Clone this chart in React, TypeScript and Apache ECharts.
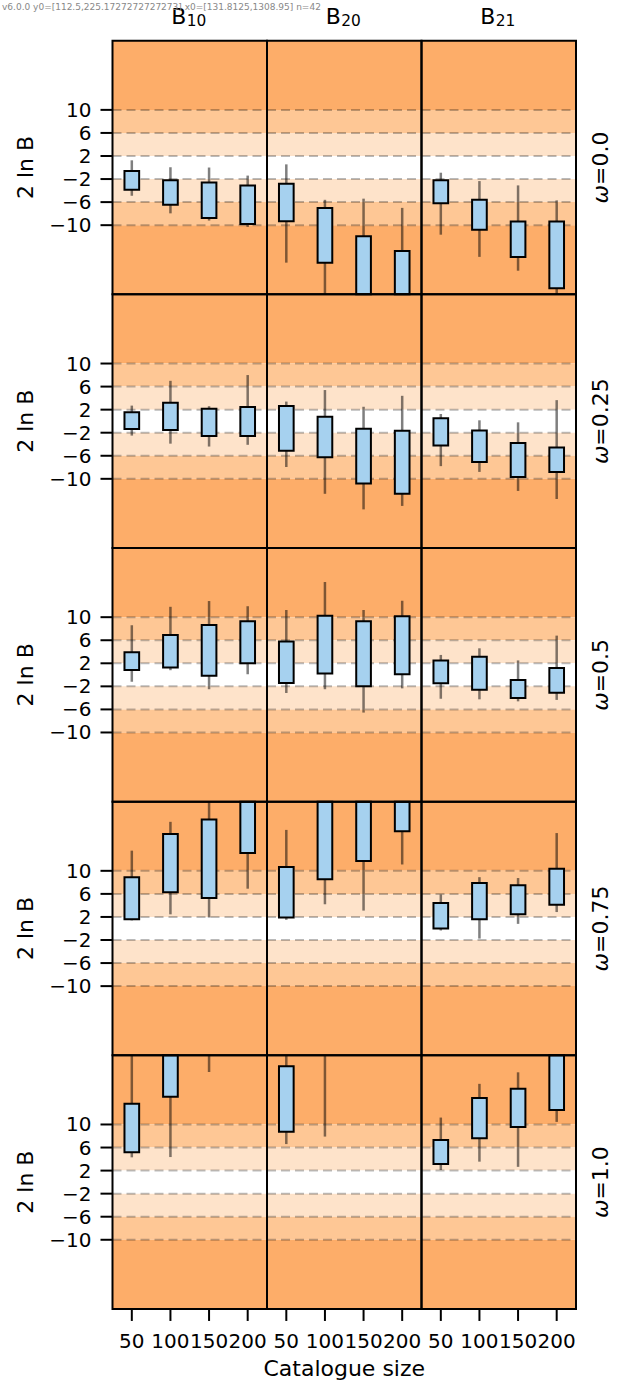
import React, { useEffect, useRef } from "react";
import * as echarts from "echarts";

// ---------- data ----------
const columnSubscripts = ["10", "20", "21"];
const omegaLabels = ["0.0", "0.25", "0.5", "0.75", "1.0"];
const catalogueSizes = [50, 100, 150, 200];
const yTickValues = [-10, -6, -2, 2, 6, 10];

const bandLow = [10, 6, 2, -2, -6, -10, -22];
const bandHigh = [22, 10, 6, 2, -2, -6, -10];
const bandColorIndex = [3, 2, 1, 0, 1, 2, 3];
const bandColors = ["#ffffff", "#fee3ca", "#fec795", "#fdad69"];

// rows: omega = 0.0, 0.25, 0.5, 0.75, 1.0 ; columns inside: catalogue size 50,100,150,200
const b10WhiskerLow = [
  [-4.9, -7.95, -9.2, -10.3],
  [-2.5, -3.9, -4.4, -4.1],
  [-1.2, 0.8, -2.5, 0.1],
  [1.4, 2.45, 1.9, 6.9],
  [4.3, 4.35, 19.1, 24.5],
];
const b10BoxLow = [
  [-3.85, -6.45, -8.75, -9.8],
  [-1.35, -1.55, -2.55, -2.55],
  [0.85, 1.25, -0.15, 2.0],
  [1.6, 6.3, 5.3, 13.1],
  [5.2, 14.8, 26, 28],
];
const b10BoxHigh = [
  [-0.6, -2.2, -2.6, -3.1],
  [1.55, 3.2, 2.15, 2.45],
  [3.9, 6.9, 8.65, 9.3],
  [8.9, 16.4, 18.9, 27],
  [13.6, 26, 33, 36],
];
const b10WhiskerHigh = [
  [1.25, 0.05, 0.0, -1.4],
  [2.7, 7.0, 2.6, 8.0],
  [8.6, 11.8, 12.8, 11.9],
  [13.5, 18.5, 24, 30],
  [26, 32, 40, 44],
];

const b20WhiskerLow = [
  [-16.5, -26, -30, -32],
  [-7.95, -12.6, -15.3, -14.7],
  [-3.15, -2.5, -6.55, -2.35],
  [1.5, 4.2, 3.1, 11.1],
  [6.6, 7.9, 25, 27],
];
const b20BoxLow = [
  [-9.3, -16.5, -25, -27],
  [-5.15, -6.25, -10.8, -12.6],
  [-1.4, 0.25, -2.0, 0.1],
  [1.9, 8.55, 11.7, 16.85],
  [8.75, 24, 30, 32],
];
const b20BoxHigh = [
  [-2.8, -7.0, -11.9, -14.5],
  [2.65, 0.75, -1.3, -1.65],
  [5.8, 10.25, 9.3, 10.15],
  [10.65, 24, 25, 26],
  [20.1, 30, 36, 38],
];
const b20WhiskerHigh = [
  [0.55, -5.6, -5.4, -7.0],
  [3.4, 5.4, 2.5, 4.4],
  [11.25, 16.1, 11.25, 12.85],
  [17.1, 30, 31, 32],
  [25, 34, 40, 42],
];

const b21WhiskerLow = [
  [-11.65, -15.5, -17.9, -22.5],
  [-7.8, -8.8, -12.1, -13.5],
  [-4.15, -4.25, -4.6, -4.35],
  [-0.35, -1.75, 0.8, 2.85],
  [2.1, 3.55, 2.65, 10.45],
];
const b21BoxLow = [
  [-6.2, -10.8, -15.5, -20.95],
  [-4.2, -7.1, -9.7, -8.8],
  [-1.45, -2.6, -4.0, -3.1],
  [0.0, 1.6, 2.45, 4.1],
  [3.15, 7.6, 9.55, 12.5],
];
const b21BoxHigh = [
  [-2.2, -5.6, -9.35, -9.35],
  [0.5, -1.6, -3.8, -4.55],
  [2.5, 3.15, -0.9, 1.2],
  [4.4, 7.9, 7.5, 10.35],
  [7.3, 14.6, 16.2, 23.5],
];
const b21WhiskerHigh = [
  [-0.9, -2.35, -3.1, -5.7],
  [1.25, 0.15, -0.2, 3.65],
  [3.45, 4.6, 2.5, 6.8],
  [5.9, 8.9, 8.75, 16.55],
  [11.2, 17.05, 19.05, 27],
];

// ---------- layout / style ----------
const W = 625;
const H = 1386;
const X_MIN = 25;
const X_MAX = 225;
const Y_MIN = -22;
const Y_MAX = 22;
const BOX_WIDTH = 19;
const GRID_LEFT = 112.5;
const COL_W = 154.5;
const GRID_TOP = 40.7;
const ROW_H = 253.65;
const TICK_LEN = 12;
const FONT = "DejaVu Sans";

const columns = [
  { wl: b10WhiskerLow, bl: b10BoxLow, bh: b10BoxHigh, wh: b10WhiskerHigh },
  { wl: b20WhiskerLow, bl: b20BoxLow, bh: b20BoxHigh, wh: b20WhiskerHigh },
  { wl: b21WhiskerLow, bl: b21BoxLow, bh: b21BoxHigh, wh: b21WhiskerHigh },
];
const nRows = omegaLabels.length;
const nCols = columns.length;

const minus = (v: number) => (v < 0 ? "\u2212" + String(-v) : String(v));
const clampY = (v: number) => Math.max(Y_MIN, Math.min(Y_MAX, v));

function buildOption() {
  const grid: any[] = [];
  const xAxis: any[] = [];
  const yAxis: any[] = [];
  const series: any[] = [];

  for (let r = 0; r < nRows; r++) {
    for (let c = 0; c < nCols; c++) {
      const idx = grid.length;
      grid.push({
        left: GRID_LEFT + c * COL_W,
        top: GRID_TOP + r * ROW_H,
        width: COL_W,
        height: ROW_H,
      });
      const isBottom = r === nRows - 1;
      const isLeft = c === 0;
      xAxis.push({
        type: "value",
        gridIndex: idx,
        min: X_MIN,
        max: X_MAX,
        splitLine: { show: false },
        axisLine: { show: false },
        axisTick: { show: false },
        axisLabel: {
          show: isBottom,
          customValues: catalogueSizes,
          fontSize: 20,
          fontFamily: FONT,
          color: "#000",
          margin: 22,
          formatter: (v: number) => String(v),
        },
      });
      yAxis.push({
        type: "value",
        gridIndex: idx,
        min: Y_MIN,
        max: Y_MAX,
        splitLine: { show: false },
        axisLine: { show: false },
        axisTick: { show: false },
        axisLabel: {
          show: isLeft,
          customValues: yTickValues,
          fontSize: 20,
          fontFamily: FONT,
          color: "#000",
          margin: 21,
          formatter: (v: number) => minus(v),
        },
      });

      series.push({
        type: "custom",
        xAxisIndex: idx,
        yAxisIndex: idx,
        silent: true,
        z: 1,
        data: bandLow.map((lo, i) => [lo, bandHigh[i], bandColorIndex[i]]),
        renderItem: (params: any, api: any) => {
          const cs = params.coordSys;
          const pTop = api.coord([X_MIN, api.value(1)]);
          const pBot = api.coord([X_MIN, api.value(0)]);
          return {
            type: "rect",
            shape: { x: cs.x, y: pTop[1], width: cs.width, height: pBot[1] - pTop[1] },
            style: { fill: bandColors[api.value(2)], stroke: null },
          };
        },
      });

      series.push({
        type: "custom",
        xAxisIndex: idx,
        yAxisIndex: idx,
        silent: true,
        z: 2,
        data: yTickValues.map((v) => [v]),
        renderItem: (params: any, api: any) => {
          const cs = params.coordSys;
          const p = api.coord([X_MIN, api.value(0)]);
          return {
            type: "line",
            shape: { x1: cs.x, y1: p[1], x2: cs.x + cs.width, y2: p[1] },
            style: { stroke: "rgba(0,0,0,0.27)", lineWidth: 2, lineDash: [9, 5] },
          };
        },
      });

      const col = columns[c];
      series.push({
        type: "custom",
        xAxisIndex: idx,
        yAxisIndex: idx,
        silent: true,
        z: 3,
        data: catalogueSizes.map((s, i) => [s, col.wl[r][i], col.bl[r][i], col.bh[r][i], col.wh[r][i]]),
        renderItem: (params: any, api: any) => {
          const x = api.value(0);
          const wl = api.value(1);
          const bl = api.value(2);
          const bh = api.value(3);
          const wh = api.value(4);
          const children: any[] = [];
          if (wh > Y_MIN && wl < Y_MAX) {
            const p1 = api.coord([x, clampY(wh)]);
            const p2 = api.coord([x, clampY(wl)]);
            children.push({
              type: "line",
              shape: { x1: p1[0], y1: p1[1], x2: p2[0], y2: p2[1] },
              style: { stroke: "rgba(0,0,0,0.5)", lineWidth: 2.5 },
            });
          }
          if (bh > Y_MIN && bl < Y_MAX) {
            const a = api.coord([x - BOX_WIDTH / 2, clampY(bh)]);
            const b = api.coord([x + BOX_WIDTH / 2, clampY(bl)]);
            children.push({
              type: "rect",
              shape: { x: a[0], y: a[1], width: b[0] - a[0], height: b[1] - a[1] },
              style: { fill: "#a6d1ef", stroke: "#000", lineWidth: 2 },
            });
          }
          return { type: "group", children };
        },
      });

      series.push({
        type: "custom",
        xAxisIndex: idx,
        yAxisIndex: idx,
        silent: true,
        z: 4,
        data: [[0]],
        renderItem: (params: any) => {
          const cs = params.coordSys;
          return {
            type: "rect",
            shape: { x: cs.x, y: cs.y, width: cs.width, height: cs.height },
            style: { fill: "none", stroke: "#000", lineWidth: 2 },
          };
        },
      });
    }
  }

  return { animation: false, grid, xAxis, yAxis, series };
}

function buildTexts() {
  const graphic: any[] = [];
  columnSubscripts.forEach((sub, c) => {
    const cx = GRID_LEFT + c * COL_W + COL_W / 2;
    graphic.push({
      type: "text", id: "tB" + c, x: cx - 18.5, y: 16.2,
      style: { text: "B", fontSize: 22, fontFamily: FONT, fill: "#000", textAlign: "left", textVerticalAlign: "middle" },
    });
    graphic.push({
      type: "text", id: "tS" + c, x: cx - 3, y: 21.2,
      style: { text: sub, fontSize: 15.4, fontFamily: FONT, fill: "#000", textAlign: "left", textVerticalAlign: "middle" },
    });
  });
  omegaLabels.forEach((lab, r) => {
    const cy = GRID_TOP + r * ROW_H + ROW_H / 2;
    graphic.push({
      type: "text", id: "yl" + r, x: 25, y: cy, rotation: Math.PI / 2,
      style: { text: "2 ln B", fontSize: 22, fontFamily: FONT, fill: "#000", textAlign: "center", textVerticalAlign: "middle" },
    });
    graphic.push({
      type: "text", id: "om" + r, x: 600, y: cy, rotation: Math.PI / 2,
      style: {
        text: "{i|ω}=" + lab, fontSize: 22, fontFamily: FONT, fill: "#000",
        textAlign: "center", textVerticalAlign: "middle",
        rich: { i: { fontSize: 22, fontFamily: FONT, fontStyle: "italic", fill: "#000" } },
      },
    });
  });
  graphic.push({
    type: "text", id: "xl", x: GRID_LEFT + (COL_W * 3) / 2, y: 1368,
    style: { text: "Catalogue size", fontSize: 22, fontFamily: FONT, fill: "#000", textAlign: "center", textVerticalAlign: "middle" },
  });
  return graphic;
}

// tick marks as filled rects, positioned through the axes' own scales
function buildTicks(chart: any, dbg: string[]) {
  const els: any[] = [];
  for (let r = 0; r < nRows; r++) {
    const idx = r * nCols;
    yTickValues.forEach((v, k) => {
      const p = chart.convertToPixel({ xAxisIndex: idx, yAxisIndex: idx }, [X_MIN, v]);
      if (r === 0 && k === 0) dbg.push("y0=" + JSON.stringify(p));
      if (!p || !isFinite(p[0]) || !isFinite(p[1])) return;
      els.push({
        type: "rect", id: "yt" + r + "_" + k,
        shape: { x: p[0] - TICK_LEN, y: p[1] - 1, width: TICK_LEN, height: 2 },
        style: { fill: "#000" },
      });
    });
  }
  for (let c = 0; c < nCols; c++) {
    const idx = (nRows - 1) * nCols + c;
    catalogueSizes.forEach((v, k) => {
      const p = chart.convertToPixel({ xAxisIndex: idx, yAxisIndex: idx }, [v, Y_MIN]);
      if (c === 0 && k === 0) dbg.push("x0=" + JSON.stringify(p));
      if (!p || !isFinite(p[0]) || !isFinite(p[1])) return;
      els.push({
        type: "rect", id: "xt" + c + "_" + k,
        shape: { x: p[0] - 1, y: p[1], width: 2, height: TICK_LEN },
        style: { fill: "#000" },
      });
    });
  }
  dbg.push("n=" + els.length);
  return els;
}

export default function App() {
  const ref = useRef<HTMLDivElement>(null);
  useEffect(() => {
    document.body.style.margin = "0";
    if (!ref.current) return;
    const chart = echarts.init(ref.current, null, { renderer: "svg" });
    chart.setOption(buildOption() as any);
    const dbg: string[] = ["v" + (echarts as any).version];
    let ticks: any[] = [];
    try {
      ticks = buildTicks(chart, dbg);
    } catch (e: any) {
      dbg.push("ERR " + String(e && e.message));
    }
    const debugEl = {
      type: "text", id: "dbg", x: 2, y: 2,
      style: { text: dbg.join(" "), fontSize: 9, fontFamily: FONT, fill: "#888", textAlign: "left", textVerticalAlign: "top" },
    };
    chart.setOption({ graphic: buildTexts().concat(ticks, [debugEl]) } as any);
    return () => chart.dispose();
  }, []);
  return <div ref={ref} style={{ position: "absolute", left: 0, top: 0, width: W, height: H }} />;
}
